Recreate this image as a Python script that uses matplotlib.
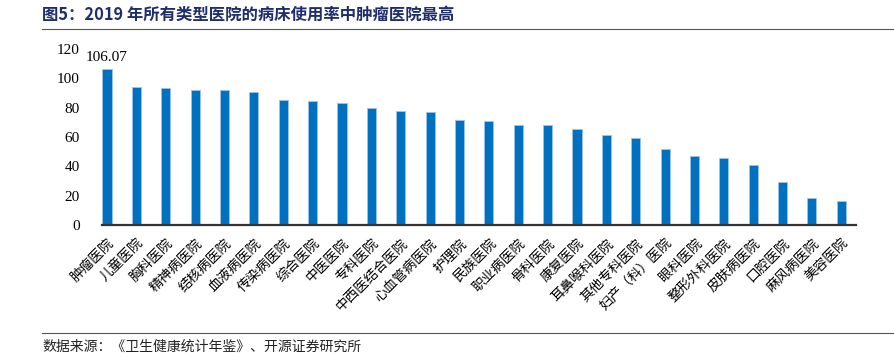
import matplotlib.pyplot as plt
import numpy as np

hospitals = ['肿瘤医院', '儿童医院', '胸科医院', '精神病医院', '结核病医院', '血液病医院',
             '传染病医院', '综合医院', '中医医院', '专科医院', '中西医结合医院', '心血管病医院',
             '护理院', '民族医院', '职业病医院', '骨科医院', '康复医院', '耳鼻喉科医院',
             '其他专科医院', '妇产（科）医院', '眼科医院', '整形外科医院', '皮肤病医院',
             '口腔医院', '麻风病医院', '美容医院']
bed_usage = [106.07, 93.9, 93.4, 92.1, 91.9, 90.5, 85.0, 84.4, 83.2, 79.8, 77.8, 77.3,
             71.4, 70.7, 68.4, 68.3, 65.5, 61.2, 59.3, 51.8, 47.1, 45.7, 41.2, 29.1,
             18.2, 16.6]
y_ticks = [0, 20, 40, 60, 80, 100, 120]

cjk = ['Noto Sans CJK SC', 'DejaVu Sans']
serif = ['Liberation Serif', 'DejaVu Serif']

fig = plt.figure(figsize=(8.94, 3.62), dpi=100)
ax = fig.add_axes([102 / 894, 1 - 225 / 362, (856 - 102) / 894, (225 - 49) / 362])

x = np.arange(len(hospitals))
ax.bar(x, bed_usage, width=0.31, color='#0070C0', edgecolor='#9DC3E6', linewidth=0.6)
ax.text(x[0], bed_usage[0] + 4, '%.2f' % bed_usage[0], ha='center', va='bottom',
        fontsize=11, family=serif)

ax.set_ylim(0, 120)
ax.set_xlim(-0.17, len(hospitals) - 0.5)
ax.set_yticks(y_ticks)
ax.set_yticklabels([str(t) for t in y_ticks], family=serif, fontsize=11)
ax.set_xticks(x)
ax.set_xticklabels(hospitals, rotation=45, ha='right', va='top', rotation_mode='anchor',
                   family=cjk, fontsize=9.8)
ax.tick_params(axis='both', length=0)
ax.tick_params(axis='y', pad=16)
ax.tick_params(axis='x', pad=8)
for s in ['top', 'right', 'left']:
    ax.spines[s].set_visible(False)
ax.spines['bottom'].set_color('#333333')
ax.spines['bottom'].set_linewidth(1.6)

fig.text(42 / 894, 1 - 15 / 362, '图5：2019 年所有类型医院的病床使用率中肿瘤医院最高',
         family=cjk, fontsize=11.8, fontweight='bold', color='#1F2D6B', va='center')
fig.add_artist(plt.Line2D([42 / 894, 1], [1 - 29 / 362] * 2, color='#555555', lw=0.8))
fig.add_artist(plt.Line2D([42 / 894, 1], [1 - 333 / 362] * 2, color='#555555', lw=0.8))
fig.text(42 / 894, 1 - 347 / 362, '数据来源：《卫生健康统计年鉴》、开源证券研究所',
         family=cjk, fontsize=10, color='#222222', va='center')

fig.savefig('out.png', dpi=100)
